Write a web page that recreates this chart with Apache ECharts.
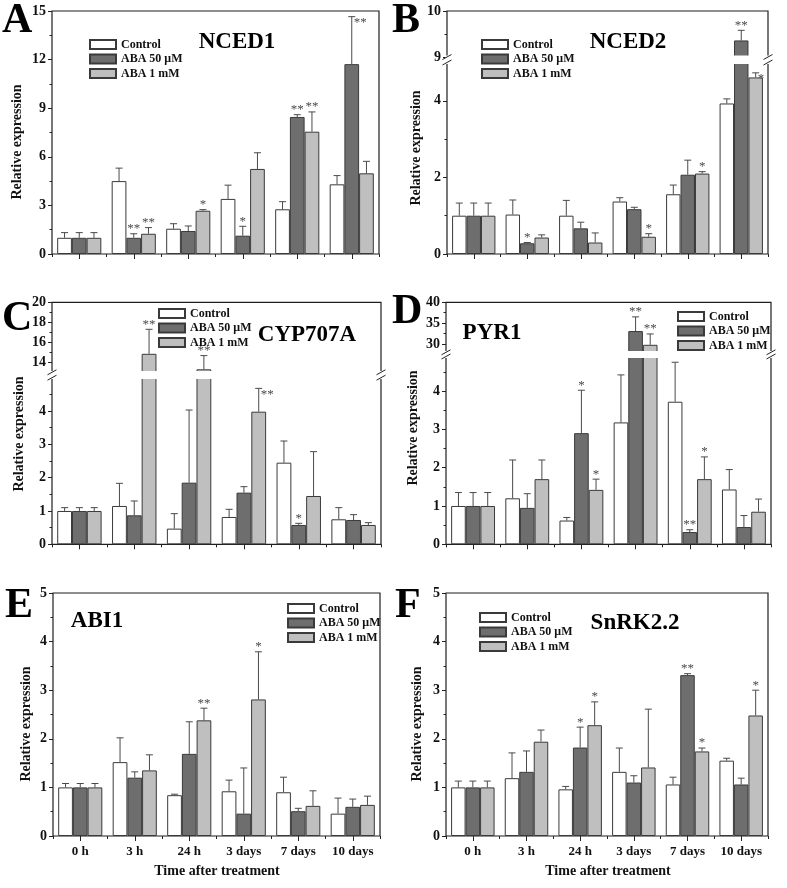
<!DOCTYPE html>
<html><head><meta charset="utf-8">
<script src="https://cdn.jsdelivr.net/npm/echarts@6/dist/echarts.min.js"></script>
<style>html,body{margin:0;padding:0;background:#fff}#c{width:787px;height:888px}</style>
</head><body><div id="c"></div><script>
const categories = ['0 h', '3 h', '24 h', '3 days', '7 days', '10 days'];
const seriesNames = ['Control', 'ABA 50 μM', 'ABA 1 mM'];

// A  NCED1
const nced1Control = [1.0, 4.5, 1.56, 3.4, 2.76, 4.3];
const nced1ControlErr = [0.32, 0.8, 0.31, 0.85, 0.47, 0.54];
const nced1Aba50 = [1.0, 1.0, 1.42, 1.13, 8.46, 11.72];
const nced1Aba50Err = [0.32, 0.25, 0.31, 0.58, 0.14, 2.93];
const nced1Aba1 = [1.0, 1.25, 2.67, 5.25, 7.55, 4.98];
const nced1Aba1Err = [0.32, 0.38, 0.07, 1.0, 1.22, 0.74];
const nced1Aba50Sig = ['', '**', '', '*', '**', '**'];
const nced1Aba1Sig = ['', '**', '*', '', '**', ''];

// B  NCED2
const nced2Control = [1.0, 1.03, 1.0, 1.37, 1.56, 3.93];
const nced2ControlErr = [0.33, 0.38, 0.4, 0.1, 0.24, 0.12];
const nced2Aba50 = [1.0, 0.28, 0.67, 1.17, 2.07, 9.36];
const nced2Aba50Err = [0.33, 0.02, 0.16, 0.05, 0.38, 0.22];
const nced2Aba1 = [1.0, 0.43, 0.3, 0.45, 2.1, 4.61];
const nced2Aba1Err = [0.33, 0.07, 0.25, 0.08, 0.05, 0.12];
const nced2Aba50Sig = ['', '*', '', '', '', '**'];
const nced2Aba1Sig = ['', '', '', '*', '*', '*'];

// C  CYP707A
const cypControl = [1.0, 1.15, 0.47, 0.82, 2.45, 0.75];
const cypControlErr = [0.1, 0.68, 0.45, 0.23, 0.65, 0.35];
const cypAba50 = [1.0, 0.87, 1.85, 1.55, 0.58, 0.73];
const cypAba50Err = [0.1, 0.43, 2.18, 0.18, 0.05, 0.16];
const cypAba1 = [1.0, 14.85, 13.3, 3.98, 1.45, 0.58];
const cypAba1Err = [0.1, 2.45, 1.37, 0.7, 1.33, 0.07];
const cypAba50Sig = ['', '', '', '', '*', ''];
const cypAba1Sig = ['', '**', '**', '**', '', ''];

// D  PYR1
const pyrControl = [1.0, 1.2, 0.62, 3.18, 3.72, 1.43];
const pyrControlErr = [0.35, 1.0, 0.08, 1.24, 1.03, 0.52];
const pyrAba50 = [1.0, 0.95, 2.9, 33.1, 0.32, 0.45];
const pyrAba50Err = [0.35, 0.37, 1.12, 3.4, 0.06, 0.3];
const pyrAba1 = [1.0, 1.7, 1.42, 29.8, 1.7, 0.85];
const pyrAba1Err = [0.35, 0.5, 0.28, 2.6, 0.58, 0.33];
const pyrAba50Sig = ['', '', '*', '**', '**', ''];
const pyrAba1Sig = ['', '', '*', '**', '*', ''];

// E  ABI1
const abiControl = [1.0, 1.52, 0.84, 0.92, 0.9, 0.46];
const abiControlErr = [0.08, 0.5, 0.02, 0.23, 0.31, 0.32];
const abiAba50 = [1.0, 1.2, 1.69, 0.46, 0.51, 0.6];
const abiAba50Err = [0.08, 0.12, 0.66, 0.94, 0.06, 0.16];
const abiAba1 = [1.0, 1.35, 2.38, 2.81, 0.62, 0.64];
const abiAba1Err = [0.08, 0.32, 0.25, 0.98, 0.31, 0.18];
const abiAba50Sig = ['', '', '', '', '', ''];
const abiAba1Sig = ['', '', '**', '*', '', ''];

// F  SnRK2.2
const snrkControl = [1.0, 1.19, 0.96, 1.32, 1.06, 1.55];
const snrkControlErr = [0.13, 0.52, 0.06, 0.49, 0.15, 0.05];
const snrkAba50 = [1.0, 1.32, 1.82, 1.1, 3.31, 1.06];
const snrkAba50Err = [0.13, 0.43, 0.42, 0.14, 0.03, 0.13];
const snrkAba1 = [1.0, 1.94, 2.28, 1.41, 1.74, 2.48];
const snrkAba1Err = [0.13, 0.24, 0.48, 1.2, 0.07, 0.52];
const snrkAba50Sig = ['', '', '*', '', '**', ''];
const snrkAba1Sig = ['', '', '*', '', '*', '*'];

// tick labels per axis segment
const ticksA = [0, 3, 6, 9, 12, 15];
const ticksBLow = [0, 2, 4], ticksBHigh = [9, 10];
const ticksCLow = [0, 1, 2, 3, 4], ticksCHigh = [14, 16, 18, 20];
const ticksDLow = [0, 1, 2, 3, 4], ticksDHigh = [30, 35, 40];
const ticksEF = [0, 1, 2, 3, 4, 5];

const FONT = '"Liberation Serif", "Times New Roman", serif';
const fills = ['#ffffff', '#6e6e6e', '#bfbfbf'];
const BORDER = '#3a3a3a';
const GAP = 0.19;
const noSig = ['', '', '', '', '', ''];

function halves(ticks) {
  const out = [];
  for (let i = 0; i < ticks.length - 1; i++) out.push((ticks[i] + ticks[i + 1]) / 2);
  return out;
}

const panels = [
  { letter: 'A', title: 'NCED1', vals: [nced1Control, nced1Aba50, nced1Aba1], errs: [nced1ControlErr, nced1Aba50Err, nced1Aba1Err], sigs: [noSig, nced1Aba50Sig, nced1Aba1Sig],
    left: 52, width: 327, xLabels: false,
    segs: [{ min: 0, max: 15, top: 11, height: 243, ticks: ticksA }],
    letterPos: [2, 21], titlePos: [237, 42], legendPos: [89, 38], yNamePos: [17, 142] },
  { letter: 'B', title: 'NCED2', vals: [nced2Control, nced2Aba50, nced2Aba1], errs: [nced2ControlErr, nced2Aba50Err, nced2Aba1Err], sigs: [noSig, nced2Aba50Sig, nced2Aba1Sig],
    left: 447, width: 321, xLabels: false,
    segs: [{ min: 0, max: 5, top: 62.5, height: 191.5, ticks: ticksBLow, minors: [1, 3] },
           { min: 9, max: 10, top: 11, height: 46, ticks: ticksBHigh }],
    letterPos: [392, 21], titlePos: [628, 42], legendPos: [481, 38], yNamePos: [416, 148] },
  { letter: 'C', title: 'CYP707A', vals: [cypControl, cypAba50, cypAba1], errs: [cypControlErr, cypAba50Err, cypAba1Err], sigs: [noSig, cypAba50Sig, cypAba1Sig],
    left: 52, width: 329, xLabels: false,
    segs: [{ min: 0, max: 5, top: 377.7, height: 166.6, ticks: ticksCLow, minors: [0.5, 1.5, 2.5, 3.5, 4.5] },
           { min: 13, max: 20, top: 302.3, height: 70, ticks: ticksCHigh, minors: [15, 17, 19] }],
    letterPos: [2, 319], titlePos: [307, 335], legendPos: [158, 307], yNamePos: [19, 434] },
  { letter: 'D', title: 'PYR1', vals: [pyrControl, pyrAba50, pyrAba1], errs: [pyrControlErr, pyrAba50Err, pyrAba1Err], sigs: [noSig, pyrAba50Sig, pyrAba1Sig],
    left: 446, width: 325, xLabels: false,
    segs: [{ min: 0, max: 4.9, top: 356.5, height: 187.8, ticks: ticksDLow, minors: [0.5, 1.5, 2.5, 3.5, 4.5] },
           { min: 28, max: 40, top: 302.3, height: 50, ticks: ticksDHigh, minors: [32.5, 37.5] }],
    letterPos: [392, 312], titlePos: [492, 333], legendPos: [677, 310], yNamePos: [413, 428] },
  { letter: 'E', title: 'ABI1', vals: [abiControl, abiAba50, abiAba1], errs: [abiControlErr, abiAba50Err, abiAba1Err], sigs: [noSig, abiAba50Sig, abiAba1Sig],
    left: 53, width: 327, xLabels: true,
    segs: [{ min: 0, max: 5, top: 593, height: 243, ticks: ticksEF }],
    letterPos: [5, 606], titlePos: [97, 621], legendPos: [287, 602], yNamePos: [26, 724], xNamePos: [217, 871] },
  { letter: 'F', title: 'SnRK2.2', vals: [snrkControl, snrkAba50, snrkAba1], errs: [snrkControlErr, snrkAba50Err, snrkAba1Err], sigs: [noSig, snrkAba50Sig, snrkAba1Sig],
    left: 446, width: 322, xLabels: true,
    segs: [{ min: 0, max: 5, top: 593, height: 243, ticks: ticksEF }],
    letterPos: [395, 606], titlePos: [635, 623], legendPos: [479, 611], yNamePos: [417, 724], xNamePos: [608, 871] }
];

const option = { animation: false, backgroundColor: '#fff', grid: [], xAxis: [], yAxis: [], series: [], legend: [], graphic: [] };

function errSeries(p, seg, xi, yi) {
  const data = [];
  const sigText = [];
  for (let s = 0; s < 3; s++) {
    for (let i = 0; i < categories.length; i++) {
      data.push([i, p.vals[s][i], p.errs[s][i], s]);
      sigText.push(p.sigs[s][i]);
    }
  }
  return {
    type: 'custom', xAxisIndex: xi, yAxisIndex: yi, z: 5, silent: true, data: data,
    renderItem: function (params, api) {
      const i = api.value(0), v = api.value(1), e = api.value(2), s = api.value(3);
      if (v < seg.min || v > seg.max) return null;
      const catW = api.size([1, 0])[0];
      const bw = catW * (1 - GAP) / 3;
      const base = api.coord([i, v]);
      const cx = base[0] + (s - 1) * bw;
      const y0 = base[1];
      const y1 = api.coord([i, v + e])[1];
      const ls = { stroke: '#4a4a4a', lineWidth: 1 };
      const children = [
        { type: 'line', shape: { x1: cx, y1: y0, x2: cx, y2: y1 }, style: ls },
        { type: 'line', shape: { x1: cx - 3.5, y1: y1, x2: cx + 3.5, y2: y1 }, style: ls }
      ];
      const t = sigText[params.dataIndex];
      if (t) {
        const nearTop = (y1 - 11) < seg.top;
        children.push({ type: 'text', style: {
          text: t, x: nearTop ? cx + 2 : cx, y: nearTop ? y1 + 6 : y1 - 5,
          align: nearTop ? 'left' : 'center', verticalAlign: 'middle',
          fontSize: 13, fontFamily: FONT, fill: '#4a4a4a' } });
      }
      return { type: 'group', children: children };
    }
  };
}

panels.forEach(function (p) {
  p.segs.forEach(function (seg, k) {
    const gi = option.grid.length;
    option.grid.push({ left: p.left, top: seg.top, width: p.width, height: seg.height, show: true, borderColor: '#1e1e1e', borderWidth: 1.2, backgroundColor: 'transparent' });
    const isBottom = k === 0;
    const xi = option.xAxis.length;
    option.xAxis.push({ type: 'category', gridIndex: gi, data: categories, position: 'bottom',
      axisLine: { show: false }, splitLine: { show: false },
      axisTick: { show: isBottom, alignWithLabel: true, length: 5, lineStyle: { color: '#222' } },
      axisLabel: { show: isBottom && p.xLabels, interval: 0, fontFamily: FONT, fontWeight: 'bold', fontSize: 13, color: '#111', margin: 9 } });
    if (isBottom) {
      option.xAxis.push({ type: 'category', gridIndex: gi, data: categories, position: 'bottom',
        axisLine: { show: false }, splitLine: { show: false }, axisLabel: { show: false },
        axisTick: { show: true, interval: 0, length: 3, lineStyle: { color: '#222' } } });
    }
    const yi = option.yAxis.length;
    option.yAxis.push({ type: 'value', gridIndex: gi, min: seg.min, max: seg.max, position: 'left',
      axisLine: { show: false }, splitLine: { show: false },
      axisTick: { show: true, length: 4, customValues: seg.ticks, lineStyle: { color: '#222' } },
      axisLabel: { show: true, customValues: seg.ticks, fontFamily: FONT, fontWeight: 'bold', fontSize: 14, color: '#111', margin: 6 } });
    option.yAxis.push({ type: 'value', gridIndex: gi, min: seg.min, max: seg.max, position: 'left',
      axisLine: { show: false }, splitLine: { show: false }, axisLabel: { show: false },
      axisTick: { show: true, length: 2.5, customValues: seg.minors || halves(seg.ticks), lineStyle: { color: '#222' } } });
    p.vals.forEach(function (vals, s) {
      option.series.push({ type: 'bar', name: seriesNames[s], xAxisIndex: xi, yAxisIndex: yi, data: vals,
        barGap: '0%', barCategoryGap: (GAP * 100) + '%', clip: true,
        itemStyle: { color: fills[s], borderColor: BORDER, borderWidth: 1 } });
    });
    option.series.push(errSeries(p, seg, xi, yi));
  });

  // break decoration for split axes
  if (p.segs.length > 1) {
    const low = p.segs[0], high = p.segs[1];
    const yu = high.top + high.height, yl = low.top;
    option.graphic.push({ type: 'rect', z: 50, shape: { x: p.left - 1.5, y: yu - 1.4, width: p.width + 3, height: (yl - yu) + 2.8 }, style: { fill: '#fff' } });
    [p.left, p.left + p.width].forEach(function (x) {
      [yu, yl].forEach(function (y) {
        option.graphic.push({ type: 'line', z: 60, shape: { x1: x - 4.5, y1: y + 2.5, x2: x + 4.5, y2: y - 2.5 }, style: { stroke: '#222', lineWidth: 1 } });
      });
    });
  }

  option.legend.push({ data: seriesNames, orient: 'vertical', left: p.legendPos[0], top: p.legendPos[1], padding: 0, z: 200,
    itemWidth: 26, itemHeight: 9, itemGap: 1.5, icon: 'rect', selectedMode: false,
    textStyle: { fontFamily: FONT, fontWeight: 'bold', fontSize: 12, color: '#111', lineHeight: 13 } });

  option.graphic.push({ type: 'text', z: 110, style: { text: p.letter, x: p.letterPos[0], y: p.letterPos[1], align: 'left', verticalAlign: 'middle', fontSize: 42, fontWeight: 'bold', fontFamily: FONT, fill: '#000' } });
  option.graphic.push({ type: 'text', z: 110, style: { text: p.title, x: p.titlePos[0], y: p.titlePos[1], align: 'center', verticalAlign: 'middle', fontSize: 23, fontWeight: 'bold', fontFamily: FONT, fill: '#000' } });
  option.graphic.push({ type: 'text', z: 110, rotation: Math.PI / 2, x: p.yNamePos[0], y: p.yNamePos[1], style: { text: 'Relative expression', x: 0, y: 0, align: 'center', verticalAlign: 'middle', fontSize: 14, fontWeight: 'bold', fontFamily: FONT, fill: '#111' } });
  if (p.xNamePos) {
    option.graphic.push({ type: 'text', z: 110, style: { text: 'Time after treatment', x: p.xNamePos[0], y: p.xNamePos[1], align: 'center', verticalAlign: 'middle', fontSize: 14, fontWeight: 'bold', fontFamily: FONT, fill: '#111' } });
  }
});

const chart = echarts.init(document.getElementById('c'), null, { renderer: 'canvas' });
chart.setOption(option);
</script></body></html>
